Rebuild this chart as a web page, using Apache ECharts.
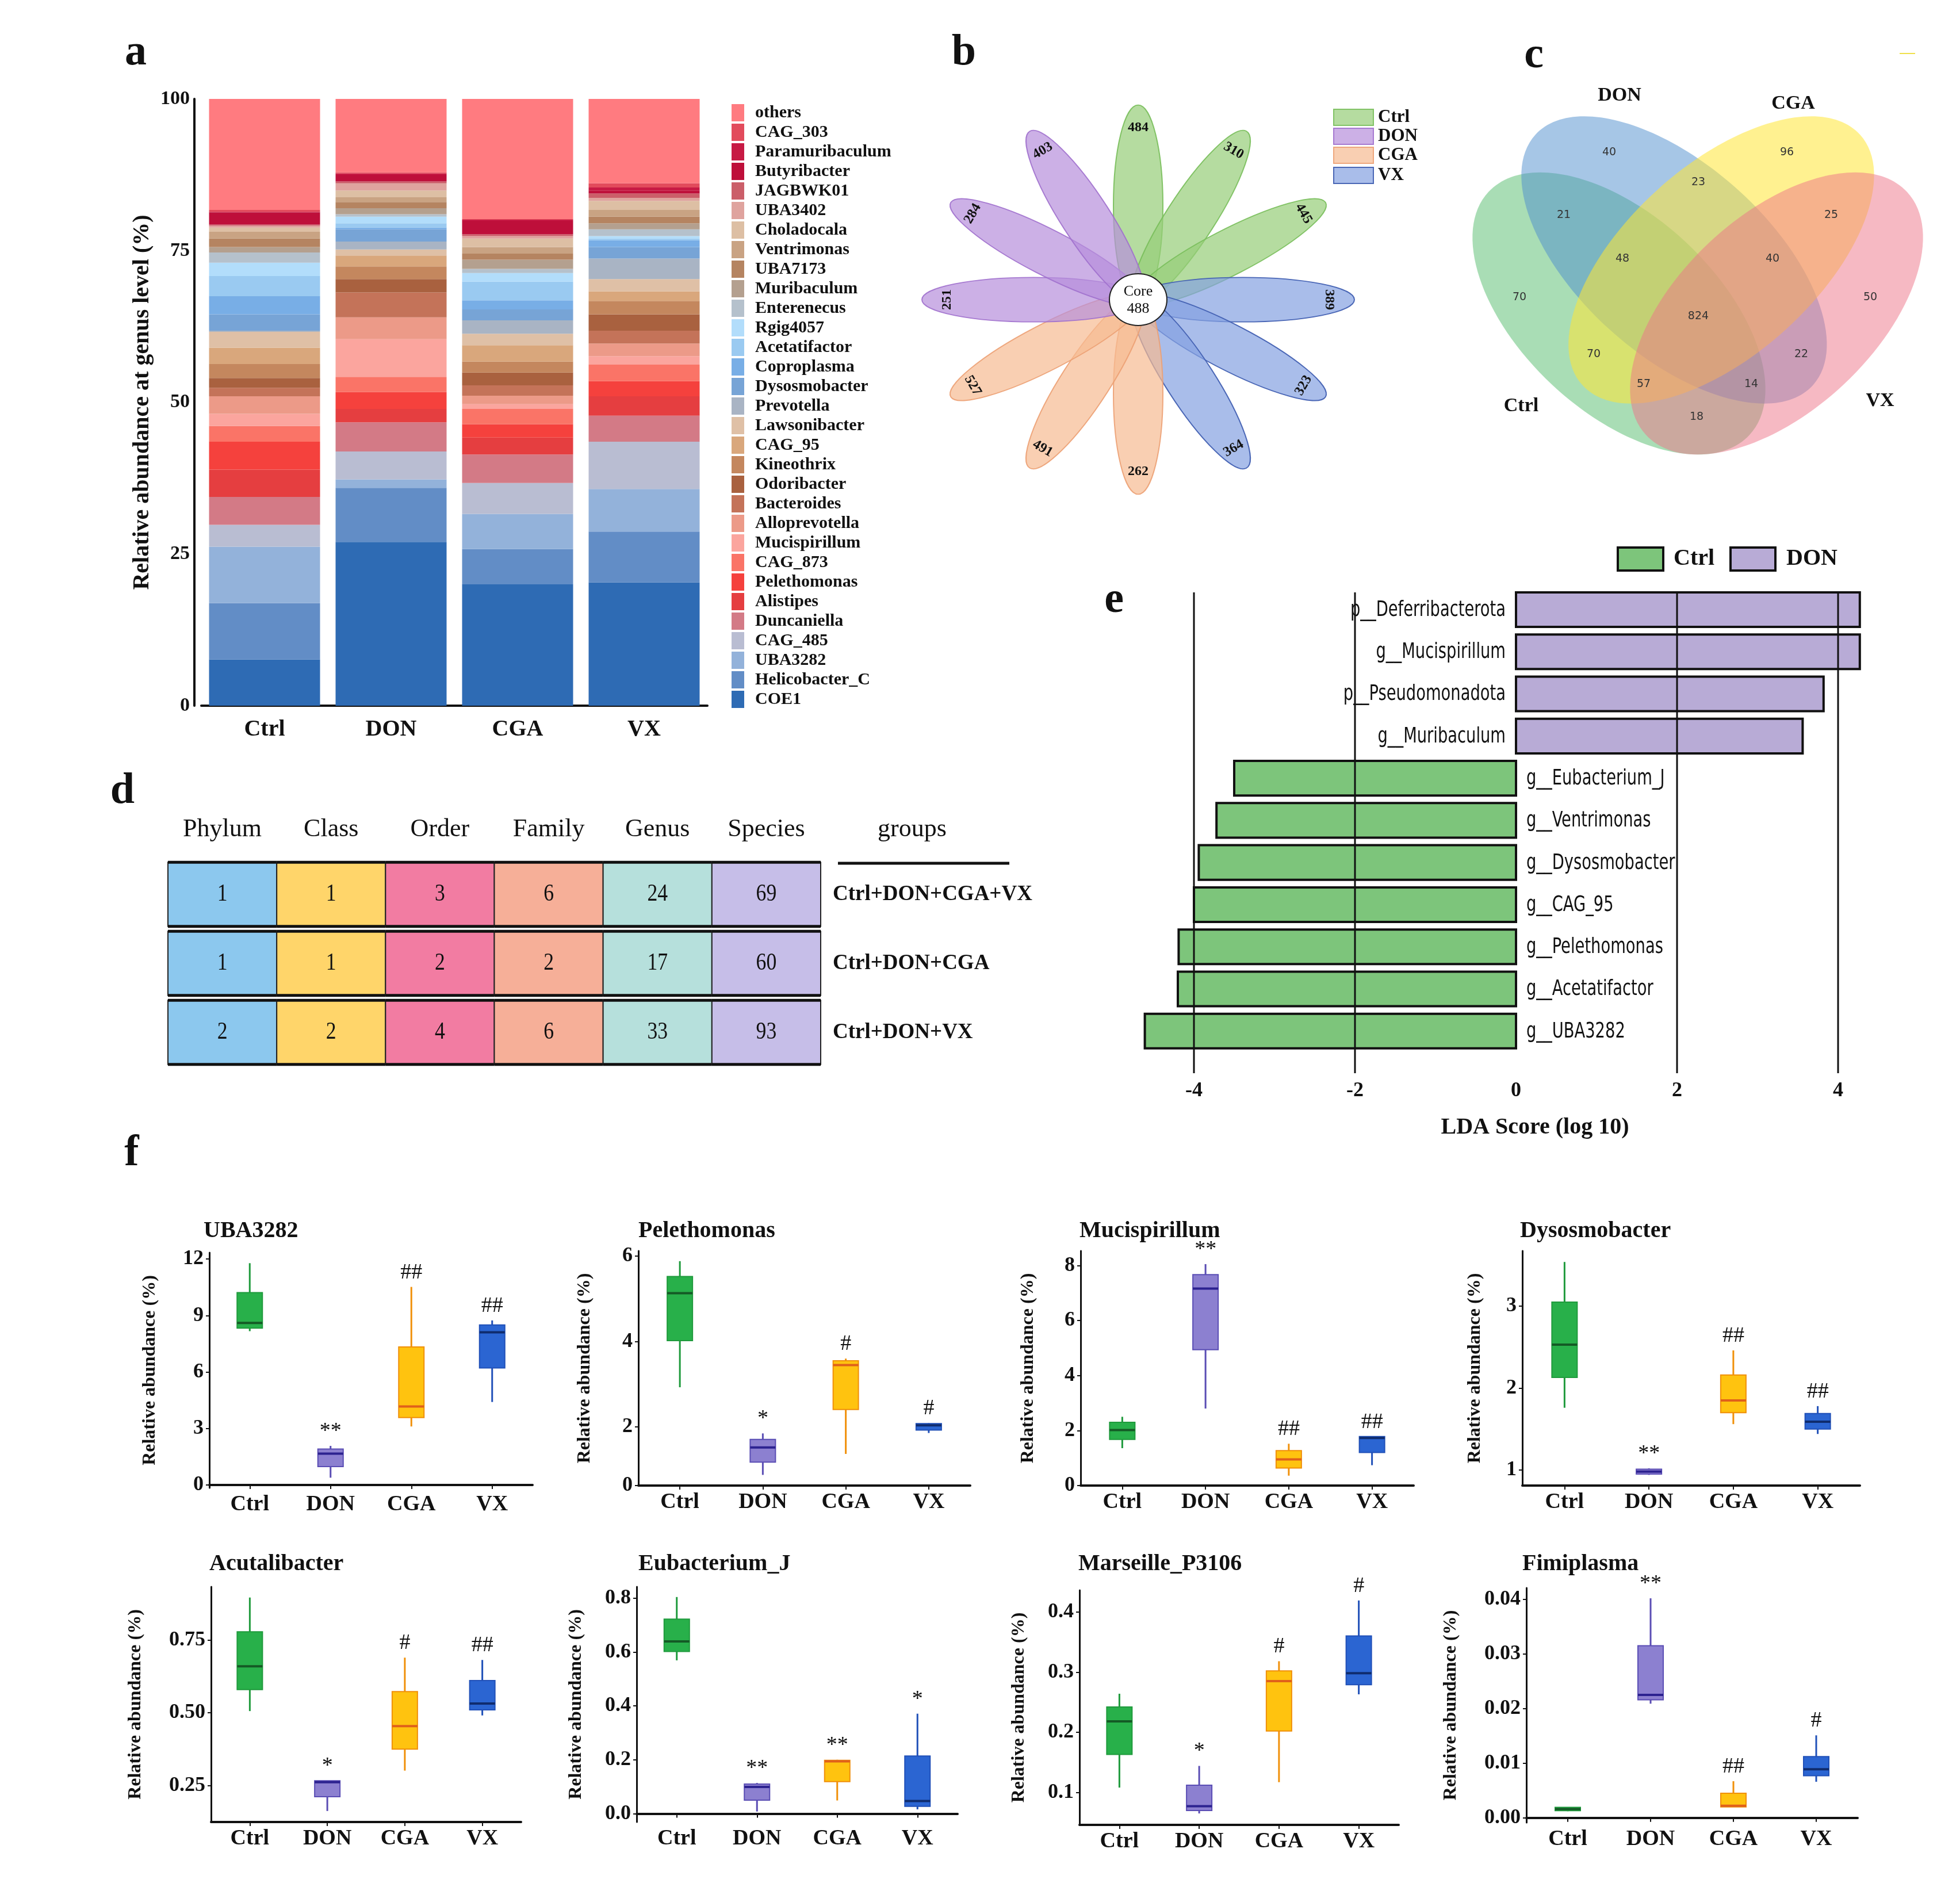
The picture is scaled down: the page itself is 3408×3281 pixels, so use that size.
<!DOCTYPE html>
<html>
<head>
<meta charset="utf-8">
<title>Figure</title>
<script src="https://cdn.jsdelivr.net/npm/echarts@6.0.0/dist/echarts.min.js"></script>
<style>
html,body{margin:0;padding:0;background:#ffffff;}
#chart{width:3408px;height:3281px;}
</style>
</head>
<body>
<div id="chart"></div>
<script>
// ================= DATA =================
const groups = ['Ctrl', 'DON', 'CGA', 'VX'];

// (a) genus-level relative abundance (%), listed bottom -> top of the stack
const genera = ['COE1','Helicobacter_C','UBA3282','CAG_485','Duncaniella','Alistipes','Pelethomonas','CAG_873','Mucispirillum','Alloprevotella','Bacteroides','Odoribacter','Kineothrix','CAG_95','Lawsonibacter','Prevotella','Dysosmobacter','Coproplasma','Acetatifactor','Rgig4057','Enterenecus','Muribaculum','UBA7173','Ventrimonas','Choladocala','UBA3402','JAGBWK01','Butyribacter','Paramuribaculum','CAG_303','others'];
const abundCtrl = [7.6,9.3,9.3,3.6,4.6,4.5,4.6,2.6,2.0,2.9,1.4,1.6,2.3,2.7,2.6,0.2,2.7,3.0,3.3,2.2,1.7,0.9,1.4,1.1,0.7,0.3,0.2,2.0,0.1,0.3,18.3];
const abundDON  = [27.0,8.9,1.4,4.6,4.8,2.2,2.8,2.5,6.2,3.6,4.1,2.2,2.1,1.8,1.0,1.3,2.0,0.3,0.7,1.1,0.4,1.0,1.0,0.8,1.1,1.2,0.3,1.1,0.2,0.2,12.1];
const abundCGA  = [20.0,5.8,5.8,5.1,4.7,2.8,2.2,2.5,0.8,1.4,1.7,2.1,1.8,2.7,1.9,2.2,1.8,1.5,3.1,1.4,0.7,1.5,1.0,1.1,1.4,0.4,0.3,2.2,0.2,0.1,19.8];
const abundVX   = [20.3,8.4,7.0,7.8,4.3,3.2,2.5,2.7,1.4,2.1,2.1,2.7,2.2,1.6,2.0,3.4,1.9,1.1,0.3,0.4,1.1,1.0,1.1,1.1,1.5,0.5,0.7,0.5,0.5,0.7,13.9];
const abundTicks = [0, 25, 50, 75, 100];

// (b) flower diagram
const petalValues = [484, 310, 445, 389, 323, 364, 262, 491, 527, 251, 284, 403];
const petalGroup  = ['Ctrl','Ctrl','Ctrl','VX','VX','VX','CGA','CGA','CGA','DON','DON','DON'];
const coreValue = 488;

// (c) Venn counts
const vennSets = ['Ctrl', 'DON', 'CGA', 'VX'];
const vennRegions = ['Ctrl','DON','CGA','VX','Ctrl&DON','DON&CGA','CGA&VX','Ctrl&DON&CGA','DON&CGA&VX','all','Ctrl&CGA','DON&VX','Ctrl&CGA&VX','Ctrl&DON&VX','Ctrl&VX'];
const vennCounts  = [70, 40, 96, 50, 21, 23, 25, 48, 40, 824, 70, 22, 57, 14, 18];

// (d) shared taxa table
const taxLevels = ['Phylum', 'Class', 'Order', 'Family', 'Genus', 'Species'];
const groupSets = ['Ctrl+DON+CGA+VX', 'Ctrl+DON+CGA', 'Ctrl+DON+VX'];
const sharedRow1 = [1, 1, 3, 6, 24, 69];
const sharedRow2 = [1, 1, 2, 2, 17, 60];
const sharedRow3 = [2, 2, 4, 6, 33, 93];

// (e) LEfSe
const ldaNames  = ['p__Deferribacterota','g__Mucispirillum','p__Pseudomonadota','g__Muribaculum','g__Eubacterium_J','g__Ventrimonas','g__Dysosmobacter','g__CAG_95','g__Pelethomonas','g__Acetatifactor','g__UBA3282'];
const ldaScores = [4.27, 4.27, 3.82, 3.56, -3.50, -3.72, -3.94, -4.00, -4.19, -4.20, -4.61];
const ldaTicks  = [-4, -2, 0, 2, 4];
const ldaGridValues = [-4, -2, 2, 4];

// (f) box plots: [min, Q1, median, Q3, max] for Ctrl, DON, CGA, VX
const boxTitles = ['UBA3282','Pelethomonas','Mucispirillum','Dysosmobacter','Acutalibacter','Eubacterium_J','Marseille_P3106','Fimiplasma'];
const boxUBA3282      = [[8.17,8.33,8.61,10.22,11.78],[0.39,0.98,1.67,1.91,2.08],[3.11,3.58,4.17,7.33,10.52],[4.41,6.22,8.11,8.50,8.74]];
const boxPelethomonas = [[2.93,4.02,5.13,5.52,5.88],[0.88,1.18,1.52,1.71,1.85],[1.37,2.41,3.45,3.55,3.60],[1.86,1.93,2.04,2.08,2.09]];
const boxMucispirillum= [[1.36,1.68,2.02,2.30,2.50],[2.80,4.94,7.16,7.67,8.05],[0.36,0.64,0.95,1.27,1.52],[0.74,1.20,1.73,1.78,1.78]];
const boxDysosmobacter= [[1.76,2.13,2.53,3.05,3.54],[0.94,0.95,0.98,1.01,1.02],[1.56,1.70,1.85,2.16,2.46],[1.44,1.50,1.59,1.69,1.78]];
const boxAcutalibacter= [[0.506,0.580,0.660,0.779,0.897],[0.162,0.211,0.261,0.266,0.266],[0.301,0.375,0.454,0.573,0.690],[0.491,0.510,0.532,0.611,0.682]];
const boxEubacterium  = [[0.569,0.602,0.639,0.722,0.804],[0.008,0.050,0.099,0.110,0.114],[0.049,0.119,0.194,0.198,0.200],[0.016,0.027,0.047,0.214,0.371]];
const boxMarseille    = [[0.108,0.163,0.218,0.242,0.264],[0.065,0.070,0.077,0.112,0.144],[0.117,0.202,0.285,0.302,0.318],[0.263,0.279,0.298,0.360,0.419]];
const boxFimiplasma   = [[0.0012,0.0013,0.0016,0.0019,0.0019],[0.0209,0.0216,0.0225,0.0315,0.0402],[0.0020,0.0020,0.0022,0.0045,0.0067],[0.0066,0.0077,0.0089,0.0112,0.0151]];
const sigUBA3282 = ['', '**', '##', '##'];
const sigPelethomonas = ['', '*', '#', '#'];
const sigMucispirillum = ['', '**', '##', '##'];
const sigDysosmobacter = ['', '**', '##', '##'];
const sigAcutalibacter = ['', '*', '#', '##'];
const sigEubacterium = ['', '**', '**', '*'];
const sigMarseille = ['', '*', '#', '#'];
const sigFimiplasma = ['', '**', '##', '#'];
const ticksUBA3282 = [0, 3, 6, 9, 12];
const ticksPelethomonas = [0.63, 2, 4, 6];   // lowest label printed as "0" at the axis foot, as in the figure
const ticksMucispirillum = [0, 2, 4, 6, 8];
const ticksDysosmobacter = [1, 2, 3];
const ticksAcutalibacter = [0.25, 0.5, 0.75];
const ticksEubacterium = [0, 0.2, 0.4, 0.6, 0.8];
const ticksMarseille = [0.1, 0.2, 0.3, 0.4];
const ticksFimiplasma = [0, 0.01, 0.02, 0.03, 0.04];

// ================= STYLE =================
const SERIF = '"Liberation Serif","Times New Roman",serif';
const COND = '"DejaVu Sans Condensed","DejaVu Sans",sans-serif';
const font = (size, weight, fam) => (weight ? weight + ' ' : '') + size + 'px ' + (fam || SERIF);

const genusColors = ['#2E6BB4','#628DC6','#93B2DA','#B9BDD2','#D37A86','#E53E40','#F5413D','#FA7467','#FBA59E','#EC9A88','#C47359','#A9613F','#C4875E','#D9A77C','#DFC0A6','#A9B4C4','#77A4D6','#78AEE6','#9ACAF1','#B2DDFB','#B5C1CC','#B4A08F','#B58461','#C9A383','#DDBFA4','#DFA39E','#CB5E69','#BE0F3A','#C71A44','#E24B5C','#FF7B80'];

const petalFill = {Ctrl:'rgba(149,205,119,0.70)', DON:'rgba(183,142,219,0.70)', CGA:'rgba(246,186,145,0.70)', VX:'rgba(132,161,225,0.70)'};
const petalStroke = {Ctrl:'rgba(120,190,90,0.9)', DON:'rgba(160,112,205,0.9)', CGA:'rgba(236,160,115,0.9)', VX:'rgba(66,96,178,0.95)'};

const vennFill = ['rgba(83,187,107,0.5)','rgba(77,141,205,0.5)','rgba(255,229,53,0.55)','rgba(237,115,135,0.5)'];
const vennShapes = [
  {cx: 2815, cy: 545, a: 310, b: 170, rot: -43},
  {cx: 2911, cy: 452, a: 325, b: 165, rot: -42},
  {cx: 2993, cy: 452, a: 325, b: 165, rot: 42},
  {cx: 3089, cy: 545, a: 310, b: 170, rot: 43}
];
const vennLabelPos = [[2642,517],[2798,265],[3107,265],[3252,517],[2719,374],[2953,317],[3184,374],[2821,450],[3082,450],[2953,550],[2771,616],[3132,616],[2858,668],[3045,668],[2950,725]];
const vennNamePos = [[2645,706],[2816,166],[3118,180],[3269,697]];

const tableColors = ['#8CC8EE','#FFD56A','#F27CA2','#F6AF98','#B6E0DC','#C6BEE8'];

const boxColors = [
  {fill:'#28B04A', line:'#1F9A3C', med:'#145A25'},
  {fill:'#8C80D0', line:'#5A4DB4', med:'#2C2290'},
  {fill:'#FFC30F', line:'#F0900A', med:'#E0601A'},
  {fill:'#2B65D2', line:'#2050B8', med:'#0F2C6E'}
];
const boxLayout = [
  {left:364,  top:2178, width:562, height:409, min:-0.15,   max:12.34,  dec:0, gap:87,  tx:354,  ty:2141},
  {left:1110, top:2175, width:577, height:408, min:0.63,    max:6.12,   dec:0, gap:77,  tx:1110, ty:2141},
  {left:1879, top:2175, width:579, height:408, min:0,       max:8.53,   dec:0, gap:75,  tx:1877, ty:2141},
  {left:2647, top:2175, width:587, height:408, min:0.81,    max:3.675,  dec:0, gap:66,  tx:2643, ty:2141},
  {left:367,  top:2759, width:539, height:409, min:0.124,   max:0.934,  dec:2, gap:115, tx:364,  ty:2720},
  {left:1107, top:2759, width:558, height:409, min:-0.031,  max:0.842,  dec:1, gap:89,  tx:1110, ty:2720},
  {left:1877, top:2765, width:555, height:408, min:0.046,   max:0.436,  dec:1, gap:89,  tx:1875, ty:2720},
  {left:2654, top:2761, width:576, height:408, min:-0.00088,max:0.0421, dec:2, gap:115, tx:2647, ty:2720}
];
const boxSets = [boxUBA3282, boxPelethomonas, boxMucispirillum, boxDysosmobacter, boxAcutalibacter, boxEubacterium, boxMarseille, boxFimiplasma];
const sigSets = [sigUBA3282, sigPelethomonas, sigMucispirillum, sigDysosmobacter, sigAcutalibacter, sigEubacterium, sigMarseille, sigFimiplasma];
const tickSets = [ticksUBA3282, ticksPelethomonas, ticksMucispirillum, ticksDysosmobacter, ticksAcutalibacter, ticksEubacterium, ticksMarseille, ticksFimiplasma];

const LDA_Y_MIN = -0.41, LDA_Y_MAX = 11.0;

// ================= BUILD =================
const chart = echarts.init(document.getElementById('chart'), null, {renderer: 'canvas', width: 3408, height: 3281});

const grids = [], xAxes = [], yAxes = [], series = [], elements = [];

// ---- (a) stacked bars ----
grids.push({left: 350, top: 172, width: 880, height: 1055, containLabel: false});
xAxes.push({gridIndex: 0, type: 'category', data: groups, offset: 12,
  axisLine: {show: true, lineStyle: {color: '#111', width: 4}}, axisTick: {show: false},
  axisLabel: {fontFamily: SERIF, fontWeight: 'bold', fontSize: 40, color: '#111', margin: 10}});
yAxes.push({gridIndex: 0, type: 'value', min: 0, max: 100, interval: 25, offset: 12,
  axisLine: {show: true, lineStyle: {color: '#111', width: 4}}, axisTick: {show: false}, splitLine: {show: false},
  axisLabel: {customValues: abundTicks, fontFamily: SERIF, fontWeight: 'bold', fontSize: 34, color: '#111', margin: 8},
  name: 'Relative abundance at genus level (%)', nameLocation: 'middle', nameGap: 70, nameMoveOverlap: false,
  nameTextStyle: {fontFamily: SERIF, fontWeight: 'bold', fontSize: 40, color: '#111'}});
const abundByGroup = [abundCtrl, abundDON, abundCGA, abundVX];
genera.forEach((g, i) => {
  series.push({type: 'bar', name: g, stack: 'genus', xAxisIndex: 0, yAxisIndex: 0, barWidth: 193,
    data: abundByGroup.map(arr => arr[i]), itemStyle: {color: genusColors[i]},
    emphasis: {disabled: true}, silent: true});
});

// ---- (d) table ----
grids.push({left: 292, top: 1495, width: 1135, height: 360, containLabel: false});
xAxes.push({gridIndex: 1, type: 'category', data: taxLevels, position: 'top',
  axisLine: {show: false}, axisTick: {show: false},
  axisLabel: {fontFamily: SERIF, fontSize: 44, color: '#111', margin: 31}});
yAxes.push({gridIndex: 1, type: 'category', data: groupSets, inverse: true, position: 'right',
  axisLine: {show: false}, axisTick: {show: false}, splitLine: {show: false},
  axisLabel: {fontFamily: SERIF, fontWeight: 'bold', fontSize: 37, color: '#111', margin: 21, align: 'left'}});
const sharedRows = [sharedRow1, sharedRow2, sharedRow3];
const tableData = [];
sharedRows.forEach((row, r) => row.forEach((v, c) => tableData.push([c, r, v])));
series.push({type: 'custom', xAxisIndex: 1, yAxisIndex: 1, silent: true, data: tableData, encode: {x: 0, y: 1},
  renderItem: (params, api) => {
    const c = api.value(0), r = api.value(1);
    const p = api.coord([c, r]);
    const sz = api.size([1, 1]);
    const w = sz[0], h = sz[1] * 0.93;
    const x0 = p[0] - w / 2, y0 = p[1] - h / 2;
    return {type: 'group', children: [
      {type: 'rect', shape: {x: x0, y: y0, width: w, height: h}, style: {fill: tableColors[c], stroke: '#222', lineWidth: 2}},
      {type: 'line', shape: {x1: x0, y1: y0, x2: x0 + w, y2: y0}, style: {stroke: '#111', lineWidth: 5}},
      {type: 'line', shape: {x1: x0, y1: y0 + h, x2: x0 + w, y2: y0 + h}, style: {stroke: '#111', lineWidth: 5}},
      {type: 'text', x: p[0], y: p[1], scaleX: 0.85, style: {text: String(api.value(2)), font: font(42), fill: '#111', textAlign: 'center', textVerticalAlign: 'middle'}}
    ]};
  }});

// ---- (e) LDA ----
grids.push({left: 1964, top: 1030, width: 1288, height: 836, containLabel: false});
xAxes.push({gridIndex: 2, type: 'value', min: -4.8, max: 4.4,
  axisLine: {show: false}, axisTick: {show: false}, splitLine: {show: false},
  axisLabel: {customValues: ldaTicks, fontFamily: SERIF, fontWeight: 'bold', fontSize: 36, color: '#111', margin: 13}});
yAxes.push({gridIndex: 2, type: 'value', inverse: true, min: LDA_Y_MIN, max: LDA_Y_MAX, show: false, splitLine: {show: false}});
series.push({type: 'custom', xAxisIndex: 2, yAxisIndex: 2, silent: true, z: 2,
  data: ldaScores.map((v, i) => [v, i]), encode: {x: 0, y: 1},
  renderItem: (params, api) => {
    const val = api.value(0), idx = api.value(1);
    const p0 = api.coord([0, idx]), p1 = api.coord([val, idx]);
    const h = api.size([0, 0.82])[1];
    const pos = val > 0;
    return {type: 'group', children: [
      {type: 'rect', shape: {x: Math.min(p0[0], p1[0]), y: p0[1] - h / 2, width: Math.abs(p1[0] - p0[0]), height: h},
        style: {fill: pos ? '#B8ABD6' : '#7DC57B', stroke: '#111', lineWidth: 4}},
      {type: 'text', x: pos ? p0[0] - 18 : p0[0] + 18, y: p0[1] + 1, scaleX: 0.8,
        style: {text: ldaNames[params.dataIndex], font: font(38, null, COND), fill: '#111', textAlign: pos ? 'right' : 'left', textVerticalAlign: 'middle'}}
    ]};
  }});
series.push({type: 'custom', xAxisIndex: 2, yAxisIndex: 2, silent: true, z: 3,
  data: ldaGridValues.map(v => [v, 0]), encode: {x: 0, y: 1},
  renderItem: (params, api) => {
    const v = api.value(0);
    const a = api.coord([v, LDA_Y_MIN]), b = api.coord([v, LDA_Y_MAX]);
    return {type: 'line', shape: {x1: a[0], y1: a[1], x2: b[0], y2: b[1]}, style: {stroke: '#111', lineWidth: 3}};
  }});

// ---- (f) box plots ----
function makeBoxRender(sigs) {
  return function (params, api) {
    const i = api.value(0);
    const pMin = api.coord([i, api.value(1)]);
    const pQ1 = api.coord([i, api.value(2)]);
    const pMed = api.coord([i, api.value(3)]);
    const pQ3 = api.coord([i, api.value(4)]);
    const pMax = api.coord([i, api.value(5)]);
    const col = boxColors[i];
    const hw = 22, x = pMed[0];
    const ch = [
      {type: 'line', shape: {x1: x, y1: pMin[1], x2: x, y2: pQ1[1]}, style: {stroke: col.line, lineWidth: 3}},
      {type: 'line', shape: {x1: x, y1: pQ3[1], x2: x, y2: pMax[1]}, style: {stroke: col.line, lineWidth: 3}},
      {type: 'rect', shape: {x: x - hw, y: pQ3[1], width: 2 * hw, height: Math.max(pQ1[1] - pQ3[1], 3)}, style: {fill: col.fill, stroke: col.line, lineWidth: 2}},
      {type: 'line', shape: {x1: x - hw, y1: pMed[1], x2: x + hw, y2: pMed[1]}, style: {stroke: col.med, lineWidth: 4}}
    ];
    const s = sigs[params.dataIndex];
    if (s) ch.push({type: 'text', x: x, y: pMax[1] - 6, style: {text: s, font: font(38), fill: '#111', textAlign: 'center', textVerticalAlign: 'bottom'}});
    return {type: 'group', children: ch};
  };
}
boxSets.forEach((set, k) => {
  const L = boxLayout[k];
  const gi = 3 + k;
  grids.push({left: L.left, top: L.top, width: L.width, height: L.height, containLabel: false});
  xAxes.push({gridIndex: gi, type: 'category', data: groups,
    axisLine: {show: true, lineStyle: {color: '#111', width: 4}},
    axisTick: {show: true, alignWithLabel: true, length: 7, lineStyle: {color: '#111', width: 2}},
    axisLabel: {fontFamily: SERIF, fontWeight: 'bold', fontSize: 38, color: '#111', margin: 10}});
  const dec = L.dec;
  yAxes.push({gridIndex: gi, type: 'value', min: L.min, max: L.max,
    axisLine: {show: true, lineStyle: {color: '#111', width: 3}},
    axisTick: {show: true, customValues: tickSets[k], length: 6, lineStyle: {color: '#111', width: 2}},
    splitLine: {show: false},
    axisLabel: {customValues: tickSets[k], fontFamily: SERIF, fontWeight: 'bold', fontSize: 36, color: '#111', margin: 10,
      formatter: (v) => (k === 1 && v < 1) ? '0' : Number(v).toFixed(dec)},
    name: 'Relative abundance (%)', nameLocation: 'middle', nameGap: L.gap, nameMoveOverlap: false,
    nameTextStyle: {fontFamily: SERIF, fontWeight: 'bold', fontSize: 32, color: '#111'}});
  series.push({type: 'custom', xAxisIndex: gi, yAxisIndex: gi, silent: true, clip: false,
    data: set.map((s, i) => [i].concat(s)), encode: {x: 0, y: [1, 2, 3, 4, 5]},
    renderItem: makeBoxRender(sigSets[k])});
  elements.push({type: 'text', x: L.tx, y: L.ty, style: {text: boxTitles[k], font: font(40, 'bold'), fill: '#111', textAlign: 'left', textVerticalAlign: 'middle'}});
});

// ---- panel letters ----
[['a', 236, 92], ['b', 1676, 92], ['c', 2667, 97], ['d', 213, 1376], ['e', 1937, 1044], ['f', 229, 2006]].forEach(t => {
  elements.push({type: 'text', x: t[1], y: t[2], style: {text: t[0], font: font(76, 'bold'), fill: '#111', textAlign: 'center', textVerticalAlign: 'middle'}});
});

// ---- (b) flower ----
const FC = [1979, 521];
const petals = petalValues.map((v, i) => {
  const th = i * 30 * Math.PI / 180;
  const g = petalGroup[i];
  return {type: 'ellipse', x: 182 * Math.sin(th), y: -182 * Math.cos(th), rotation: -th,
    shape: {cx: 0, cy: 0, rx: 43, ry: 194}, style: {fill: petalFill[g], stroke: petalStroke[g], lineWidth: 2}};
});
elements.push({type: 'group', x: FC[0], y: FC[1], scaleY: 0.9, children: petals});
petalValues.forEach((v, i) => {
  const deg = i * 30, th = deg * Math.PI / 180;
  const r = deg <= 90 ? deg : (deg >= 270 ? deg - 360 : deg - 180);
  elements.push({type: 'text', x: FC[0] + 332 * Math.sin(th), y: FC[1] - 332 * Math.cos(th) * 0.9, rotation: -r * Math.PI / 180,
    style: {text: String(v), font: font(24, 'bold'), fill: '#111', textAlign: 'center', textVerticalAlign: 'middle'}});
});
elements.push({type: 'ellipse', shape: {cx: FC[0], cy: FC[1], rx: 50, ry: 45}, style: {fill: '#fff', stroke: '#222', lineWidth: 2}});
elements.push({type: 'text', x: FC[0], y: FC[1] - 14, style: {text: 'Core', font: font(26), fill: '#111', textAlign: 'center', textVerticalAlign: 'middle'}});
elements.push({type: 'text', x: FC[0], y: FC[1] + 16, style: {text: String(coreValue), font: font(26), fill: '#111', textAlign: 'center', textVerticalAlign: 'middle'}});
const bLegendY = [204, 237, 270, 305];
groups.forEach((g, i) => {
  elements.push({type: 'rect', shape: {x: 2319, y: bLegendY[i] - 14, width: 69, height: 28}, style: {fill: petalFill[g], stroke: petalStroke[g], lineWidth: 2}});
  elements.push({type: 'text', x: 2396, y: bLegendY[i], style: {text: g, font: font(31, 'bold'), fill: '#111', textAlign: 'left', textVerticalAlign: 'middle'}});
});

// ---- (c) Venn ----
vennShapes.forEach((s, i) => {
  elements.push({type: 'ellipse', x: s.cx, y: s.cy, rotation: s.rot * Math.PI / 180,
    shape: {cx: 0, cy: 0, rx: s.a, ry: s.b}, style: {fill: vennFill[i]}});
});
vennCounts.forEach((v, i) => {
  elements.push({type: 'text', x: vennLabelPos[i][0], y: vennLabelPos[i][1], style: {text: String(v), font: font(19, null, '"DejaVu Sans",sans-serif'), fill: '#333', textAlign: 'center', textVerticalAlign: 'middle'}});
});
vennSets.forEach((n, i) => {
  elements.push({type: 'text', x: vennNamePos[i][0], y: vennNamePos[i][1], style: {text: n, font: font(34, 'bold'), fill: '#111', textAlign: 'center', textVerticalAlign: 'middle'}});
});
elements.push({type: 'line', shape: {x1: 3303, y1: 93, x2: 3330, y2: 93}, style: {stroke: '#EFE04A', lineWidth: 2}});

// ---- (d) extras ----
elements.push({type: 'text', x: 1586, y: 1442, style: {text: 'groups', font: font(44), fill: '#111', textAlign: 'center', textVerticalAlign: 'middle'}});
elements.push({type: 'line', shape: {x1: 1457, y1: 1501, x2: 1755, y2: 1501}, style: {stroke: '#111', lineWidth: 5}});

// ---- (e) legend + title ----
elements.push({type: 'rect', shape: {x: 2813, y: 952, width: 79, height: 40}, style: {fill: '#7DC57B', stroke: '#111', lineWidth: 4}});
elements.push({type: 'text', x: 2910, y: 972, style: {text: 'Ctrl', font: font(40, 'bold'), fill: '#111', textAlign: 'left', textVerticalAlign: 'middle'}});
elements.push({type: 'rect', shape: {x: 3009, y: 952, width: 78, height: 40}, style: {fill: '#B8ABD6', stroke: '#111', lineWidth: 4}});
elements.push({type: 'text', x: 3106, y: 972, style: {text: 'DON', font: font(40, 'bold'), fill: '#111', textAlign: 'left', textVerticalAlign: 'middle'}});
elements.push({type: 'text', x: 2669, y: 1961, style: {text: 'LDA Score (log 10)', font: font(40, 'bold'), fill: '#111', textAlign: 'center', textVerticalAlign: 'middle'}});

const option = {
  animation: false,
  backgroundColor: '#ffffff',
  grid: grids,
  xAxis: xAxes,
  yAxis: yAxes,
  legend: [{
    data: genera.slice().reverse(), orient: 'vertical', left: 1267, top: 176,
    itemWidth: 22, itemHeight: 30, itemGap: 4, icon: 'rect', selectedMode: false,
    textStyle: {fontFamily: SERIF, fontWeight: 'bold', fontSize: 30, color: '#111', padding: [0, 0, 0, 14]}
  }],
  series: series,
  graphic: {elements: elements}
};
chart.setOption(option);
</script>
</body>
</html>
